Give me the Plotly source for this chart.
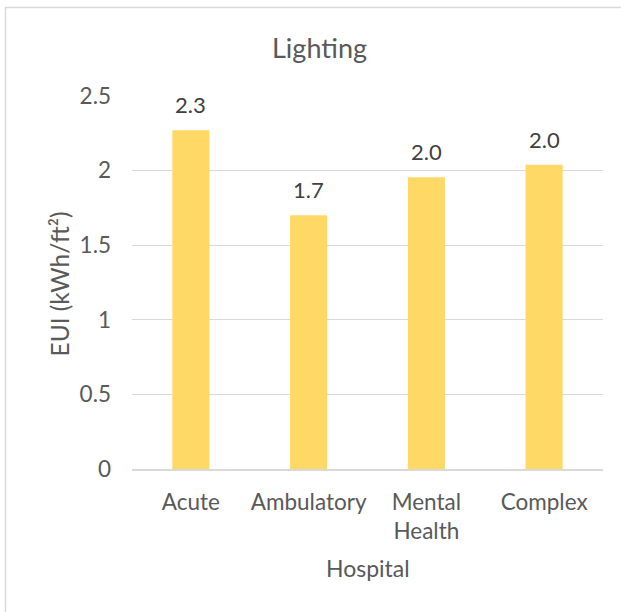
import plotly.graph_objects as go

# Lighting energy use intensity by hospital type
categories = ["Acute", "Ambulatory", "Mental<br>Health", "Complex"]
eui_values = [2.27, 1.70, 1.955, 2.04]
y_ticks = [0, 0.5, 1, 1.5, 2, 2.5]
y_tick_labels = ["0", "0.5", "1", "1.5", "2", "2.5"]

FONT = "Lato"
TEXT = "#595959"
GRID = "#D9D9D9"
W, H = 621, 612
L, R, T, B = 132, 18, 96, 143
PW, PH = W - L - R, H - T - B

fig = go.Figure()
fig.add_trace(go.Bar(
    x=categories,
    y=eui_values,
    marker=dict(color="#FFD966", line=dict(width=0)),
    width=0.315,
    hoverinfo="x+y",
))

# value labels above each bar, rounded to one decimal
for cat, val in zip(categories, eui_values):
    fig.add_annotation(
        x=cat, y=val, text=f"{val:.1f}", showarrow=False,
        yanchor="bottom", yshift=10,
        font=dict(family=FONT, size=22, color="#404040"),
    )

# axis titles
fig.add_annotation(
    xref="paper", yref="paper", x=(42 - L) / PW, y=(H - B - 284) / PH,
    text="EUI (kWh/ft²)", textangle=-90, showarrow=False,
    xanchor="left", yanchor="middle",
    font=dict(family=FONT, size=24.5, color=TEXT),
)
fig.add_annotation(
    xref="paper", yref="paper", x=0.5, y=-(568 - (H - B)) / PH,
    text="Hospital", showarrow=False, xanchor="center", yanchor="middle",
    font=dict(family=FONT, size=23, color=TEXT),
)

fig.update_layout(
    width=W, height=H,
    margin=dict(l=L, r=R, t=T, b=B),
    paper_bgcolor="white", plot_bgcolor="white",
    showlegend=False,
    font=dict(family=FONT, color=TEXT, size=22),
    title=dict(text="Lighting", x=319.5 / W, xanchor="center", y=1 - 49 / H, yanchor="middle",
               font=dict(family=FONT, size=27, color=TEXT)),
    shapes=[dict(type="rect", xref="paper", yref="paper",
                 x0=(5.5 - L) / PW, x1=1.5, y0=-1.0, y1=(H - 7.5 - B) / PH,
                 line=dict(color="#D9D9D9", width=1.5), fillcolor="rgba(0,0,0,0)", layer="below")],
)

fig.update_xaxes(
    showgrid=False, showline=True, linecolor=GRID, linewidth=1.5,
    ticks="", ticklabelstandoff=12, tickfont=dict(size=22.5, color=TEXT),
)
fig.update_yaxes(
    range=[0, 2.5], tickvals=y_ticks, ticktext=y_tick_labels,
    showgrid=True, gridcolor=GRID, gridwidth=1.3, zeroline=False,
    showline=False, ticks="", ticklabelstandoff=20,
    tickfont=dict(size=22.5, color=TEXT),
)

fig.write_html("out.html")
